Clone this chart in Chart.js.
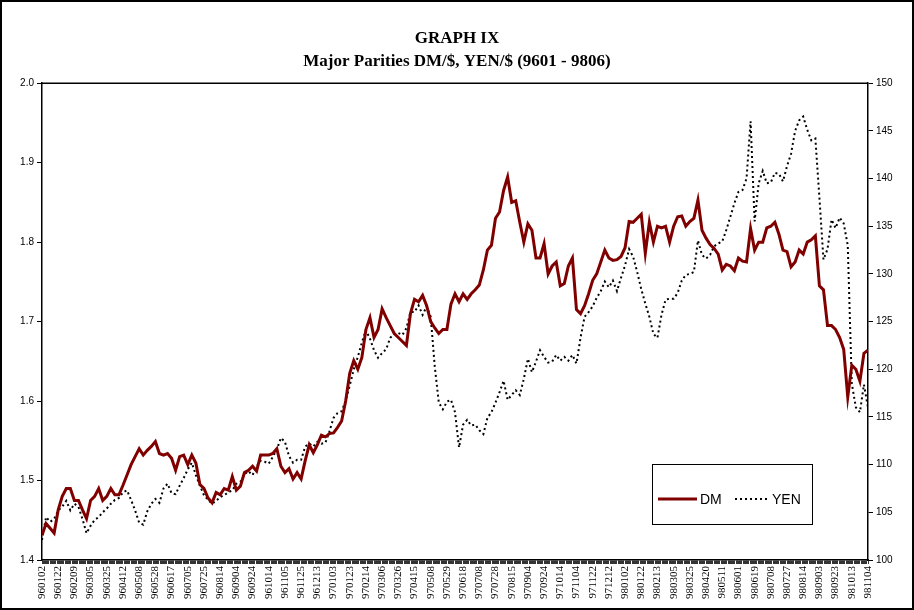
<!DOCTYPE html>
<html lang="en">
<head>
  <meta charset="UTF-8">
  <title>GRAPH IX</title>
  <style>
    body {
      margin: 0;
      padding: 0;
      background-color: #fff;
    }

    .frame {
      position: relative;
      width: 914px;
      height: 610px;
      box-sizing: border-box;
      border: 2px solid #000;
      background-color: #fff;
    }
  </style>
</head>
<body>
  <div class="frame">
    <canvas id="myChart" width="910" height="606"></canvas>
  </div>
  <script src="https://cdn.jsdelivr.net/npm/chart.js"></script>
  <script>
    // tick labels, one every 14 trading days
    var dateLabels = [
      '960102', '960122', '960209', '960305', '960325', '960412', '960508', '960528', '960617', '960705',
      '960725', '960814', '960904', '960924', '961014', '961105', '961125', '961213', '970103', '970123',
      '970214', '970306', '970326', '970415', '970508', '970529', '970618', '970708', '970728', '970815',
      '970904', '970924', '971014', '971104', '971122', '971212', '980102', '980122', '980213', '980305',
      '980325', '980420', '980511', '980601', '980619', '980708', '980727', '980814', '980903', '980923',
      '981013', '981104'
    ];

    // one reading every 3.5 trading days
    var dayStep = 3.5;

    var dm = [
      1.431, 1.446, 1.44, 1.434, 1.463, 1.48, 1.49, 1.49, 1.475, 1.475,
      1.463, 1.452, 1.475, 1.48, 1.49, 1.475, 1.48, 1.49, 1.482, 1.482,
      1.494, 1.507, 1.52, 1.53, 1.54, 1.532, 1.538, 1.543, 1.549, 1.534,
      1.532, 1.534, 1.528, 1.513, 1.53, 1.532, 1.52, 1.532, 1.522, 1.495,
      1.49, 1.478, 1.472, 1.485, 1.482, 1.49, 1.488, 1.505, 1.488, 1.493,
      1.51, 1.513, 1.518, 1.512, 1.532, 1.532, 1.532, 1.534, 1.54, 1.518,
      1.51, 1.515, 1.502, 1.51, 1.502, 1.525, 1.545, 1.535, 1.545, 1.557,
      1.555, 1.559, 1.56, 1.567, 1.575, 1.6, 1.635, 1.651, 1.64, 1.655,
      1.69, 1.705, 1.68, 1.69, 1.716, 1.705, 1.695, 1.685, 1.68, 1.675,
      1.67, 1.71, 1.728, 1.725, 1.733, 1.72, 1.7, 1.692, 1.685, 1.69,
      1.69, 1.722, 1.735, 1.725, 1.735, 1.728, 1.735, 1.74, 1.746, 1.765,
      1.79, 1.796, 1.83, 1.838, 1.865, 1.882, 1.85, 1.852, 1.825, 1.8,
      1.823, 1.815, 1.78, 1.78, 1.798, 1.76, 1.77, 1.775, 1.745, 1.748,
      1.77, 1.78, 1.715, 1.71, 1.72, 1.735, 1.752, 1.76, 1.775, 1.79,
      1.78, 1.777, 1.778, 1.782, 1.793, 1.826, 1.825, 1.83, 1.835, 1.786,
      1.825, 1.8, 1.82, 1.818, 1.82, 1.8, 1.82, 1.832, 1.833, 1.82,
      1.826, 1.83, 1.853, 1.815, 1.805, 1.797, 1.792, 1.785, 1.765, 1.772,
      1.77, 1.764, 1.78, 1.776, 1.775, 1.817, 1.79, 1.8, 1.8, 1.818,
      1.82, 1.825, 1.81, 1.79, 1.788, 1.769, 1.775, 1.79, 1.785, 1.8,
      1.803, 1.808, 1.745, 1.74, 1.695, 1.695, 1.69, 1.68, 1.665, 1.605,
      1.645, 1.64, 1.625, 1.66, 1.664
    ];

    var yen = [
      102.1, 104.5, 104, 104.3, 105.2, 105.6, 106.2, 105.2, 105.9, 105.6,
      104.3, 102.8, 103.6, 104.2, 104.5, 105, 105.4, 105.9, 106.3, 106.5,
      107.1, 107.3, 106.3, 105.2, 103.9, 103.7, 105.1, 105.9, 106.4, 106,
      107.5, 108, 107, 106.9, 107.8, 108.6, 109.5, 110.2, 108.9, 107.8,
      106.8, 106.3, 105.9, 106.2, 106.6, 106.8, 107.1, 107.3, 108, 108.2,
      109, 109.3, 108.9, 109.8, 110.4, 110.3, 110.1, 110.8, 111.6, 112.8,
      112.4, 110.9, 110.2, 110.5, 110.5, 111.9, 112.2, 111.9, 112.4, 112.2,
      112.3, 113.5, 114.9, 115.4, 115.6, 116.7, 118.3, 120, 121.3, 122.8,
      124.1, 123.2, 122, 121.2, 121.7, 122.1, 123.3, 123.7, 123.8, 123.6,
      124.3, 126, 126, 126.7, 125.7, 126.6, 125.5, 120.3, 116.5, 115.8,
      116.6, 116.8, 115.5, 111.8, 114.2, 114.7, 114.1, 114.2, 113.6, 113.2,
      114.9, 115.5, 116.5, 117.6, 118.8, 116.8, 117.3, 117.8, 117.3, 119,
      121.1, 119.7, 120.8, 122, 121.3, 120.7, 120.8, 121.5, 120.9, 121.3,
      120.9, 121.5, 120.6, 123.3, 125.5, 126, 126.6, 127.5, 128.2, 129.2,
      128.6, 129.3, 128.2, 129.6, 130.9, 132.6, 131.8, 130.2, 128.4, 126.9,
      125.5, 123.7, 123.3, 125.7, 127.3, 127.4, 127.4, 128, 129.3, 129.9,
      130, 130.2, 133.5, 132, 131.6, 132, 132.9, 133.2, 133.4, 134.6,
      136, 137.4, 138.6, 138.8, 140, 146, 135.5, 139.5, 140.8, 139.5,
      139.6, 140.6, 140.5, 139.7, 141.3, 142.6, 145, 146.1, 146.5, 145.1,
      144, 144.2, 138, 131.5, 132.6, 135.7, 134.8, 135.9, 135.3, 133,
      118.5, 116, 115.5, 118.4, 116
    ];

    var dmColor = '#800000';
    var yenColor = '#000000';

    function toPoints(values) {
      return values.map(function(v, i) {
        return { x: i * dayStep, y: v };
      });
    }

    // plot frame top line + the boxed legend in the lower right
    var boxLegend = {
      id: 'boxLegend',
      afterDraw: function(chart) {
        var ctx = chart.ctx;
        var a = chart.chartArea;
        ctx.save();
        ctx.strokeStyle = '#000';
        ctx.lineWidth = 1.5;
        ctx.beginPath();
        ctx.moveTo(a.left, a.top);
        ctx.lineTo(a.right, a.top);
        ctx.stroke();

        var bx = a.right - 216, by = a.bottom - 96, bw = 160, bh = 60;
        ctx.fillStyle = '#fff';
        ctx.fillRect(bx, by, bw, bh);
        ctx.lineWidth = 1;
        ctx.strokeRect(bx + 0.5, by + 0.5, bw, bh);

        var ly = by + 35;
        var ds = chart.data.datasets;
        ctx.font = '14px "Liberation Sans", Arial, sans-serif';
        ctx.textBaseline = 'middle';
        ctx.fillStyle = '#000';

        ctx.strokeStyle = ds[0].borderColor;
        ctx.lineWidth = ds[0].borderWidth;
        ctx.beginPath();
        ctx.moveTo(bx + 6, ly);
        ctx.lineTo(bx + 45, ly);
        ctx.stroke();
        ctx.fillText(ds[0].label, bx + 48, ly + 1);

        ctx.strokeStyle = ds[1].borderColor;
        ctx.lineWidth = ds[1].borderWidth;
        ctx.setLineDash(ds[1].borderDash);
        ctx.beginPath();
        ctx.moveTo(bx + 83, ly);
        ctx.lineTo(bx + 118, ly);
        ctx.stroke();
        ctx.setLineDash([]);
        ctx.fillText(ds[1].label, bx + 120, ly + 1);
        ctx.restore();
      }
    };

    var ctx = document.getElementById('myChart').getContext('2d');
    var myChart = new Chart(ctx, {
      type: 'line',
      data: {
        datasets: [{
          label: 'DM',
          data: toPoints(dm),
          yAxisID: 'y',
          borderColor: dmColor,
          borderWidth: 3,
          pointRadius: 0,
          tension: 0
        }, {
          label: 'YEN',
          data: toPoints(yen),
          yAxisID: 'y2',
          borderColor: yenColor,
          borderWidth: 2,
          borderDash: [2, 3],
          pointRadius: 0,
          tension: 0
        }]
      },
      plugins: [boxLegend],
      options: {
        responsive: false,
        animation: false,
        layout: {
          padding: { left: 0, right: 0, top: 0, bottom: 0 }
        },
        plugins: {
          legend: { display: false },
          tooltip: { enabled: false },
          title: {
            display: true,
            text: ['GRAPH IX', 'Major Parities DM/$, YEN/$ (9601 - 9806)'],
            color: '#000',
            font: { family: '"Liberation Serif", "Times New Roman", serif', size: 17, weight: 'bold', lineHeight: 1.3 },
            padding: { top: 26, bottom: 11 }
          }
        },
        scales: {
          x: {
            type: 'linear',
            position: 'bottom',
            min: 0,
            max: 714,
            afterFit: function(s) { s.height = 48; },
            ticks: {
              stepSize: 1,
              autoSkip: false,
              minRotation: 90,
              maxRotation: 90,
              padding: 2,
              color: '#000',
              font: { family: '"Liberation Serif", "Times New Roman", serif', size: 11 },
              callback: function(v) {
                return v % 14 === 0 ? dateLabels[v / 14] : '';
              }
            },
            grid: {
              drawOnChartArea: false,
              tickLength: 4,
              color: '#000',
              lineWidth: 0.8
            },
            border: { color: '#000', width: 1.5 }
          },
          y: {
            position: 'left',
            min: 1.4,
            max: 2.0,
            afterFit: function(s) { s.width = 40; },
            ticks: {
              stepSize: 0.1,
              padding: 3,
              color: '#000',
              font: { family: '"Liberation Sans", Arial, sans-serif', size: 10 },
              callback: function(v) { return v.toFixed(1); }
            },
            grid: {
              drawOnChartArea: false,
              tickLength: 5,
              color: '#000'
            },
            border: { color: '#000', width: 1.5 }
          },
          y2: {
            position: 'right',
            min: 100,
            max: 150,
            afterFit: function(s) { s.width = 44; },
            ticks: {
              stepSize: 5,
              padding: 3,
              color: '#000',
              font: { family: '"Liberation Sans", Arial, sans-serif', size: 10 }
            },
            grid: {
              drawOnChartArea: false,
              tickLength: 5,
              color: '#000'
            },
            border: { color: '#000', width: 1.5 }
          }
        }
      }
    });
  </script>
</body>
</html>
